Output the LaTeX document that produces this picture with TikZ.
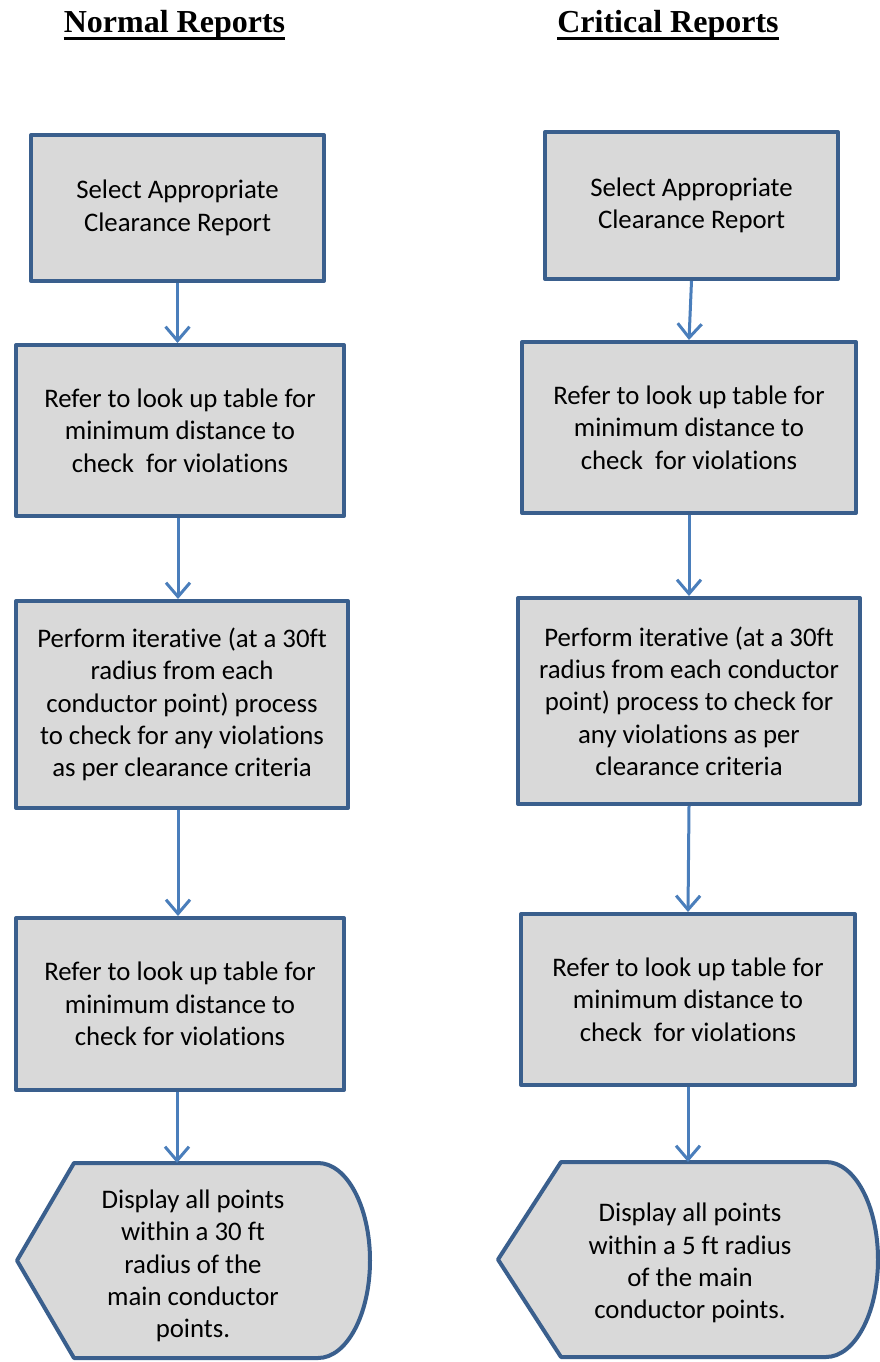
\documentclass[tikz,border=0pt]{standalone}
\usepackage{fontspec}
\setmainfont{Carlito}[Ligatures={NoCommon}]
\newfontfamily\headfont{Liberation Serif}
\usetikzlibrary{arrows.meta}
\definecolor{boxline}{HTML}{3A5F8D}
\definecolor{boxfill}{HTML}{D9D9D9}
\definecolor{arrowc}{HTML}{4A7EBB}
\begin{document}
\begin{tikzpicture}[x=1pt,y=-1pt,
  procbox/.style={draw=boxline, fill=boxfill, line width=4pt, line join=round, align=center, inner sep=0pt, font=\fontsize{26.8}{32.3}\selectfont},
  dispshape/.style={draw=boxline, fill=boxfill, line width=4pt, line join=round},
  disptext/.style={align=center, inner sep=0pt, font=\fontsize{26.8}{32.3}\selectfont},
  flowarrow/.style={draw=arrowc, line width=3pt, -{Straight Barb[length=14pt,width=24pt]}},
  headtext/.style={font=\headfont\bfseries\fontsize{32}{36}\selectfont, inner sep=0pt, anchor=base},
  underl/.style={line width=3pt}
]
\useasboundingbox (0,0) rectangle (879,1362);

% headers
\node[headtext] (h1) at (174.5,33) {Normal Reports};
\node[headtext] (h2) at (668,33) {Critical Reports};
\draw[underl] ([yshift=-5.5pt]h1.base west) -- ([yshift=-5.5pt]h1.base east);
\draw[underl] ([yshift=-5.5pt]h2.base west) -- ([yshift=-5.5pt]h2.base east);

% left column
\node[procbox, minimum width=293pt, minimum height=146pt] (l1) at (177.5,208) {Select Appropriate\\Clearance Report};
\node[procbox, minimum width=328pt, minimum height=171pt] (l2) at (180,430.5) {Refer to look up table for\\minimum distance to\\check\ \ for violations};
\node[procbox, minimum width=332pt, minimum height=207pt] (l3) at (182,704.5) {Perform iterative (at a 30ft\\radius from each\\conductor point) process\\to check for any violations\\as per clearance criteria};
\node[procbox, minimum width=328pt, minimum height=172pt] (l4) at (180,1004) {Refer to look up table for\\minimum distance to\\check for violations};
\draw[dispshape] (74,1163) -- (318,1163) .. controls (346.7,1163) and (370,1206.6) .. (370,1260.5) .. controls (370,1314.4) and (346.7,1358) .. (318,1358) -- (74,1358) -- (17,1260.5) -- cycle;
\coordinate (l5top) at (177,1163);
\node[disptext] (l5) at (193,1266) {Display all points\\within a 30 ft\\radius of the\\main conductor\\points.};

% right column
\node[procbox, minimum width=293pt, minimum height=147pt] (r1) at (691.5,205.5) {Select Appropriate\\Clearance Report};
\node[procbox, minimum width=334pt, minimum height=171pt] (r2) at (689,427.5) {Refer to look up table for\\minimum distance to\\check\ \ for violations};
\node[procbox, minimum width=342pt, minimum height=206pt] (r3) at (689,701) {Perform iterative (at a 30ft\\radius from each conductor\\point) process to check for\\any violations as per\\clearance criteria};
\node[procbox, minimum width=334pt, minimum height=171pt] (r4) at (688,999.5) {Refer to look up table for\\minimum distance to\\check\ \ for violations};
\draw[dispshape] (561,1162) -- (826,1162) .. controls (854.7,1162) and (878,1205.7) .. (878,1259.5) .. controls (878,1313.3) and (854.7,1357) .. (826,1357) -- (561,1357) -- (498,1259.5) -- cycle;
\coordinate (r5top) at (688,1162);
\node[disptext] (r5) at (690,1263) {Display all points\\within a 5 ft radius\\of the main\\conductor points.};

% arrows
\draw[flowarrow] (l1.south) -- (l1.south |- l2.north);
\draw[flowarrow] (l2.south -| 178,0) -- (178,0 |- l3.north);
\draw[flowarrow] (l3.south -| 178,0) -- (178,0 |- l4.north);
\draw[flowarrow] (l4.south -| 177,0) -- (l5top);
\draw[flowarrow] (r1.south) -- (r2.north);
\draw[flowarrow] (r2.south) -- (r3.north);
\draw[flowarrow] (r3.south) -- (r4.north);
\draw[flowarrow] (r4.south) -- (r5top);
\end{tikzpicture}
\end{document}
